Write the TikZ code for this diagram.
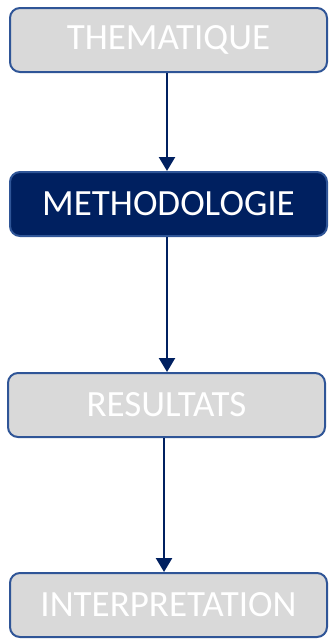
\documentclass[tikz,border=0pt]{standalone}
\usepackage{fontspec}
\setmainfont{Carlito}
\usepackage{tikz}
\usetikzlibrary{arrows.meta,arrows}
\usetikzlibrary{positioning}

\definecolor{navy}{HTML}{002060}
\definecolor{boxblue}{HTML}{2F5597}
\definecolor{boxgray}{HTML}{D9D9D9}

\begin{document}
\begin{tikzpicture}[x=1pt,y=-1pt]

        \useasboundingbox (0,0) rectangle (333,643);

        \begin{scope}[every node/.style={rectangle,rounded corners=10pt,draw=boxblue,line width=2pt,
            fill=boxgray,text=white,minimum width=317pt,minimum height=64pt,
            font=\fontsize{37}{42}\selectfont}]
            \node (T) at (168.5,40) {THEMATIQUE};
            \node[fill=navy] (M) at (168.5,204) {METHODOLOGIE};
            \node (R) at (166.5,405) {RESULTATS};
            \node (I) at (168.5,605) {INTERPRETATION};
        \end{scope}

        \begin{scope}[>={Triangle[navy,length=14pt,width=16pt]},line width=2.5pt,draw=navy]
            \path [->] (T.south -| 167,0) edge (M.north -| 167,0);
            \path [->] (M.south -| 167,0) edge (R.north -| 167,0);
            \path [->] (R.south -| 164,0) edge (I.north -| 164,0);
        \end{scope}
    \end{tikzpicture}
\end{document}
